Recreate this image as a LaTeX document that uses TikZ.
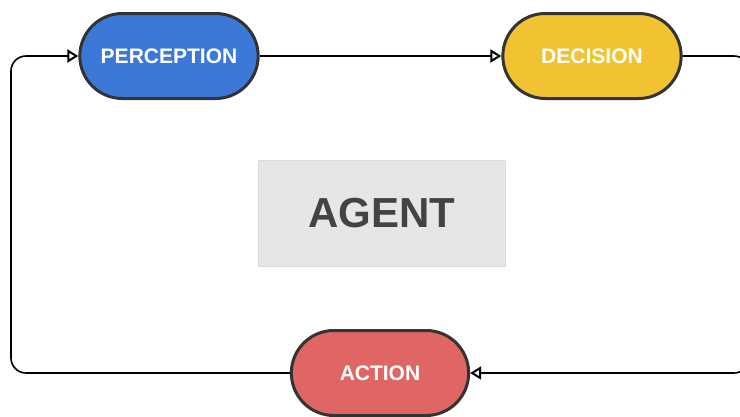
\documentclass[tikz,border=0pt]{standalone}
\usepackage{fontspec}
\setmainfont{Liberation Sans}
\usepackage{xcolor}
\usetikzlibrary{arrows.meta, shapes.misc}
\definecolor{percblue}{HTML}{3B78D8}
\definecolor{decyellow}{HTML}{F1C232}
\definecolor{actred}{HTML}{E06666}
\definecolor{stageline}{HTML}{333333}
\definecolor{agentfill}{HTML}{E6E6E6}
\definecolor{agentline}{HTML}{DADADA}
\definecolor{agenttext}{HTML}{434343}
\tikzset{
    stage/.style={rounded rectangle, draw=stageline, line width=3pt,
        minimum width=175pt, minimum height=85pt, text=white,
        font=\fontsize{21}{25}\selectfont\bfseries},
    loop/.style={-{Triangle[open, length=11pt, width=13pt, line width=2pt]},
        line width=1.6pt, rounded corners=15pt},
    core/.style={rectangle, fill=agentfill, draw=agentline, line width=1pt,
        minimum width=247pt, minimum height=106pt, text=agenttext,
        font=\fontsize{42}{48}\selectfont\bfseries}
}

\begin{document}
\begin{tikzpicture}[x=1pt, y=-1pt]
    \useasboundingbox (0,0) rectangle (740,416);
    \clip (0,0) rectangle (740,416);
    % stages of the loop
    \node[stage, fill=percblue, minimum width=185pt] (perception) at (169,56) {PERCEPTION};
    \node[stage, fill=decyellow, minimum width=185pt] (decision) at (592,56) {DECISION};
    \node[stage, fill=actred, minimum width=184pt] (action) at (380,373) {ACTION};
    % agent in the middle
    \node[core] (agent) at (381.5,213) {AGENT};
    % corners of the loop
    \coordinate (leftbottom) at (11,373);
    \coordinate (lefttop) at (11,56);
    \coordinate (righttop) at (749,56);
    \coordinate (rightbottom) at (749,373);
    % connectors
    \draw[loop] (perception.east) -- (decision.west);
    \draw[loop] (decision.east) -- (righttop) -- (rightbottom) -- (action.east);
    \draw[loop] (action.west) -- (leftbottom) -- (lefttop) -- (perception.west);
\end{tikzpicture}
\end{document}
